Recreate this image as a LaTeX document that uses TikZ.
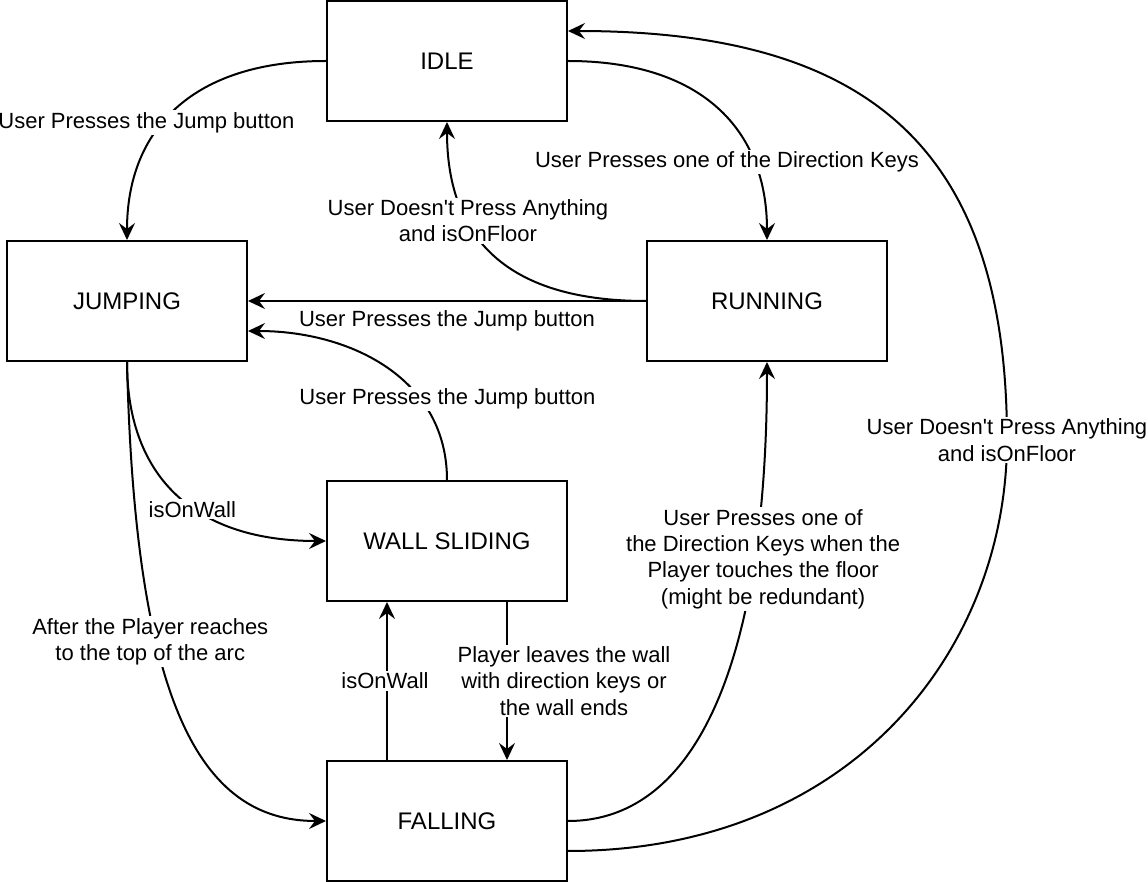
\documentclass[tikz,border=0pt]{standalone}
\usepackage{fontspec}
\setmainfont{Liberation Sans}
\usepackage{tikz}
\usetikzlibrary{calc}
\usetikzlibrary{arrows.meta}

\begin{document}
\begin{tikzpicture}[x=0.5pt, y=-0.5pt, line width=1pt,
    state/.style={draw, rectangle, minimum width=120pt, minimum height=60pt, inner sep=0pt, font=\fontsize{12}{14}\selectfont},
    cond/.style={fill=white, inner sep=1pt, align=center, font=\fontsize{11}{13.2}\selectfont},
    trans/.style={-{Stealth[length=8.5pt, width=8pt, inset=3pt]}}]
          \useasboundingbox (0, 0) rectangle (1148, 882);

          \node[state] (idle) at (447, 61) {IDLE};
          \node[state] (jumping) at (127, 301) {JUMPING};
          \node[state] (running) at (767, 301) {RUNNING};
          \node[state] (wall) at (447, 541) {WALL SLIDING};
          \node[state] (falling) at (447, 821) {FALLING};
          \coordinate (turn) at (1007, 440);

          \draw[trans] (idle.west) .. controls +(-133, 0) and +(0, -111) .. (jumping.north)
            node[cond, pos=0.56, xshift=-9.5pt, yshift=-1pt]{User Presses the Jump button};

          \draw[trans] (idle.east) .. controls +(133, 0) and +(0, -111) .. (running.north)
            node[cond, pos=0.73, xshift=-12.75pt, yshift=-1pt]{User Presses one of the Direction Keys};

          \draw[trans] (running.west) .. controls +(-147, 0) and +(0, 109) .. (idle.south)
            node[cond, pos=0.65]{User Doesn\textquotesingle t Press Anything\\and isOnFloor};

          \draw[trans] (running.west) -- node[cond, yshift=-10pt]{User Presses the Jump button} (jumping.east);

          \draw[trans] (wall.north) .. controls +(0, -101) and +(103, 0) .. ([yshift=-15pt]jumping.east)
            node[cond, pos=0.32, xshift=13.5pt]{User Presses the Jump button};

          \draw[trans] (jumping.south) .. controls +(0, 119) and +(-127, 0) .. (wall.west)
            node[cond, pos=0.58, xshift=-2pt]{isOnWall};

          \draw[trans] (jumping.south) .. controls +(8, 339) and +(-127, 0) .. (falling.west)
            node[cond, pos=0.35, xshift=-3pt]{After the Player reaches\\to the top of the arc};

          \draw[trans] ([xshift=-30pt]falling.north) -- node[cond, xshift=-1pt]{isOnWall} ([xshift=-30pt]wall.south);

          \draw[trans] ([xshift=30pt]wall.south) --
            node[cond, xshift=28.5pt]{Player leaves the wall\\with direction keys or\\the wall ends} ([xshift=30pt]falling.north);

          \draw[trans] (falling.east) .. controls +(133, 0) and +(0, 289) .. (running.south)
            node[cond, pos=0.745, xshift=4.5pt]{User Presses one of\\the Direction Keys when the\\Player touches the floor\\(might be redundant)};

          \draw[trans] ([yshift=-15pt]falling.east) .. controls +(283, 0) and +(0, 210) .. (turn)
            node[cond]{User Doesn\textquotesingle t Press Anything\\and isOnFloor}
            .. controls +(0, -290) and +(303, 0) .. ([yshift=15pt]idle.east);

        \end{tikzpicture}
\end{document}
